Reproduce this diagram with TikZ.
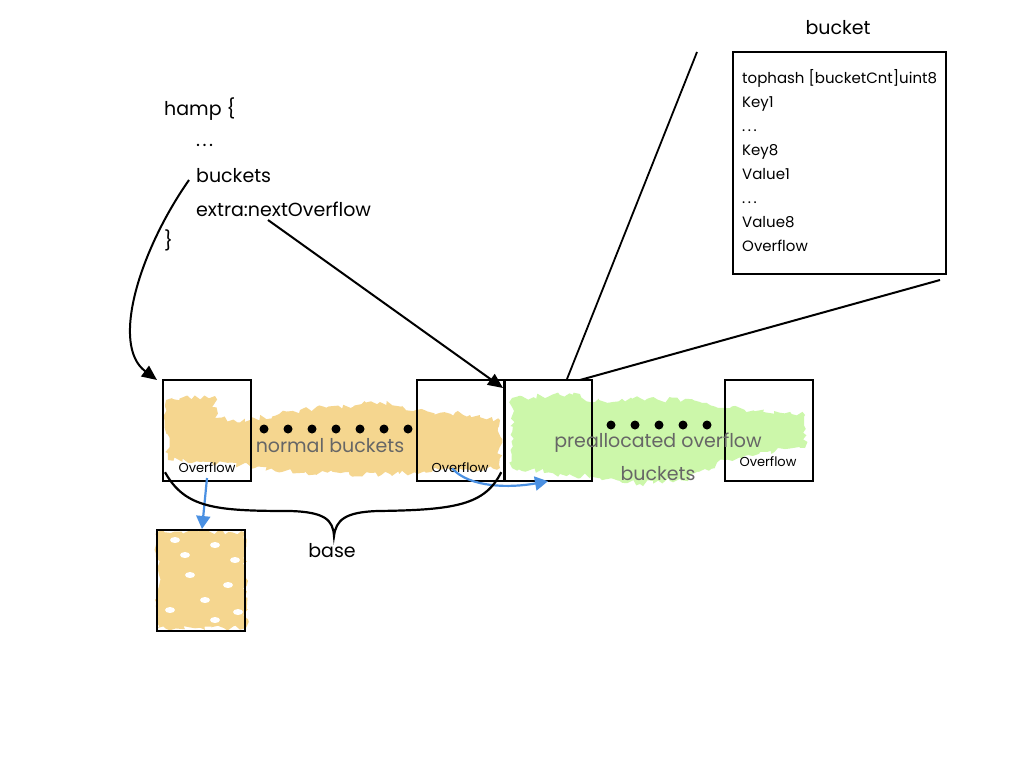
\documentclass[tikz,border=0pt]{standalone}
\usepackage{fontspec}
\setmainfont{Poppins}
\usetikzlibrary{arrows.meta,decorations.pathmorphing}
\definecolor{orangeA}{HTML}{F5D68F}
\definecolor{greenA}{HTML}{CCF7AA}
\definecolor{blueA}{HTML}{4A90E2}
\definecolor{grayT}{HTML}{666666}
\newcommand{\threedots}{.\kern2.5pt.\kern2.5pt.}
\begin{document}
\begin{tikzpicture}[x=1pt,y=-1pt,
  bk/.style={draw=black,line width=2.2pt,minimum width=88pt,minimum height=101pt,inner sep=0pt,anchor=north west},
  lbl/.style={font=\fontsize{19}{22}\selectfont,anchor=base west,inner sep=0pt},
  blbl/.style={font=\fontsize{15}{17}\selectfont,anchor=base west,inner sep=0pt},
  small/.style={font=\fontsize{13}{15}\selectfont,inner sep=0pt,anchor=base},
  gtext/.style={font=\fontsize{19}{22}\selectfont,text=grayT,inner sep=0pt,anchor=base},
  dot/.style={circle,fill=black,minimum size=9pt,inner sep=0pt},
  arr/.style={-{Triangle[length=15pt,width=13pt]},line width=2pt},
  barr/.style={-{Triangle[length=13pt,width=14pt,fill=blueA]},line width=2.2pt,draw=blueA},
  rough/.style={decorate,decoration={random steps,segment length=4pt,amplitude=3pt}},
]
\useasboundingbox (0,0) rectangle (1024,768);
\fill[white] (0,0) rectangle (1024,768);
% colour swaths
\fill[orangeA,rough] (166,400) -- (215,396) -- (215,418) -- (250,420) -- (300,410) -- (380,402) -- (416,410) -- (470,415) -- (500,420) -- (500,468) -- (440,470) -- (390,474) -- (300,473) -- (250,466) -- (200,462) -- (168,460) -- cycle;
\fill[greenA,rough] (512,398) -- (580,394) -- (590,402) -- (640,398) -- (700,402) -- (725,408) -- (805,415) -- (805,448) -- (760,452) -- (725,460) -- (690,478) -- (640,484) -- (600,478) -- (560,474) -- (512,468) -- cycle;
\fill[orangeA,rough] (157,532) -- (244,532) -- (246,628) -- (158,628) -- cycle;
\foreach \p in {(175,540),(215,545),(235,560),(190,575),(228,585),(205,600),(170,610),(238,612),(215,620),(185,555)}
  \fill[white] \p ellipse (5pt and 3pt);
% buckets row
\node[bk] (b1) at (162,379) {};
\node[bk] (b2) at (416,379) {};
\node[bk] (b3) at (503,379) {};
\node[bk] (b4) at (724,379) {};
\node[bk] (ov) at (156,529) {};
\node[small] (o1) at (207,472) {Overflow};
\node[small] (o2) at (460,472) {Overflow};
\node[small] (o4) at (768,466) {Overflow};
\foreach \x [count=\i] in {264,288,312,336,360,384,408} \node[dot] (n\i) at (\x,429) {};
\foreach \x [count=\i] in {611,635,659,683,707} \node[dot] (g\i) at (\x,425) {};
\node[gtext] (nb) at (330,452) {normal buckets};
\node[gtext] (pb) at (658,447) {preallocated overflow};
\node[gtext] (pb2) at (658,480) {buckets};
% hmap struct
\node[lbl] (hamp) at (164,115) {hamp \{};
\node[lbl] (dots1) at (196,146) {\threedots};
\node[lbl] (buckets) at (196,182) {buckets};
\node[lbl] (extra) at (196,216) {extra:nextOverflow};
\node[lbl] (close) at (164,247) {\}};
% bucket detail
\node[font=\fontsize{19}{22}\selectfont,inner sep=0pt,anchor=base] (btitle) at (838,35) {bucket};
\node[draw=black,line width=2.2pt,minimum width=213pt,minimum height=222pt,inner sep=0pt,anchor=north west] (detail) at (732,51) {};
\node[blbl] (f1) at (742,83) {tophash [bucketCnt]uint8};
\node[blbl] (f2) at (742,107) {Key1};
\node[blbl] (f3) at (742,131) {\threedots};
\node[blbl] (f4) at (742,155) {Key8};
\node[blbl] (f5) at (742,179) {Value1};
\node[blbl] (f6) at (742,203) {\threedots};
\node[blbl] (f7) at (742,227) {Value8};
\node[blbl] (f8) at (742,251) {Overflow};
% connectors
\coordinate (bstart) at (189,180);
\coordinate (estart) at (268,220);
\coordinate (zt) at (697,52);
\coordinate (zb) at (940,280);
\draw[arr] (bstart) .. controls (140,250) and (110,345) .. ([xshift=-5pt,yshift=-1pt]b1.north west);
\draw[arr] (estart) -- ([yshift=-9pt]b3.north west);
\draw[line width=1.8pt] ([xshift=64pt]b3.north west) -- (zt);
\draw[line width=2pt] ([xshift=77pt,yshift=-1pt]b3.north west) -- (zb);
\draw[barr] (o1.south |- 0,478) -- ([xshift=46pt]ov.north west);
\draw[barr] ([xshift=-8pt,yshift=4pt]o2.south) .. controls (470,488) and (510,488) .. ([xshift=45pt,yshift=1pt]b3.south west);
% brace
\draw[line width=2.2pt] ([xshift=3pt,yshift=10pt]b1.south west) .. controls (185,508) and (215,511) .. (290,511) .. controls (325,512) and (333,520) .. (334,536) .. controls (336,520) and (345,512) .. (378,511) .. controls (455,510) and (485,505) .. ([xshift=-5pt,yshift=10pt]b2.south east);
\node[font=\fontsize{19}{22}\selectfont,inner sep=0pt,anchor=base] (base) at (332,557) {base};
\end{tikzpicture}
\end{document}
